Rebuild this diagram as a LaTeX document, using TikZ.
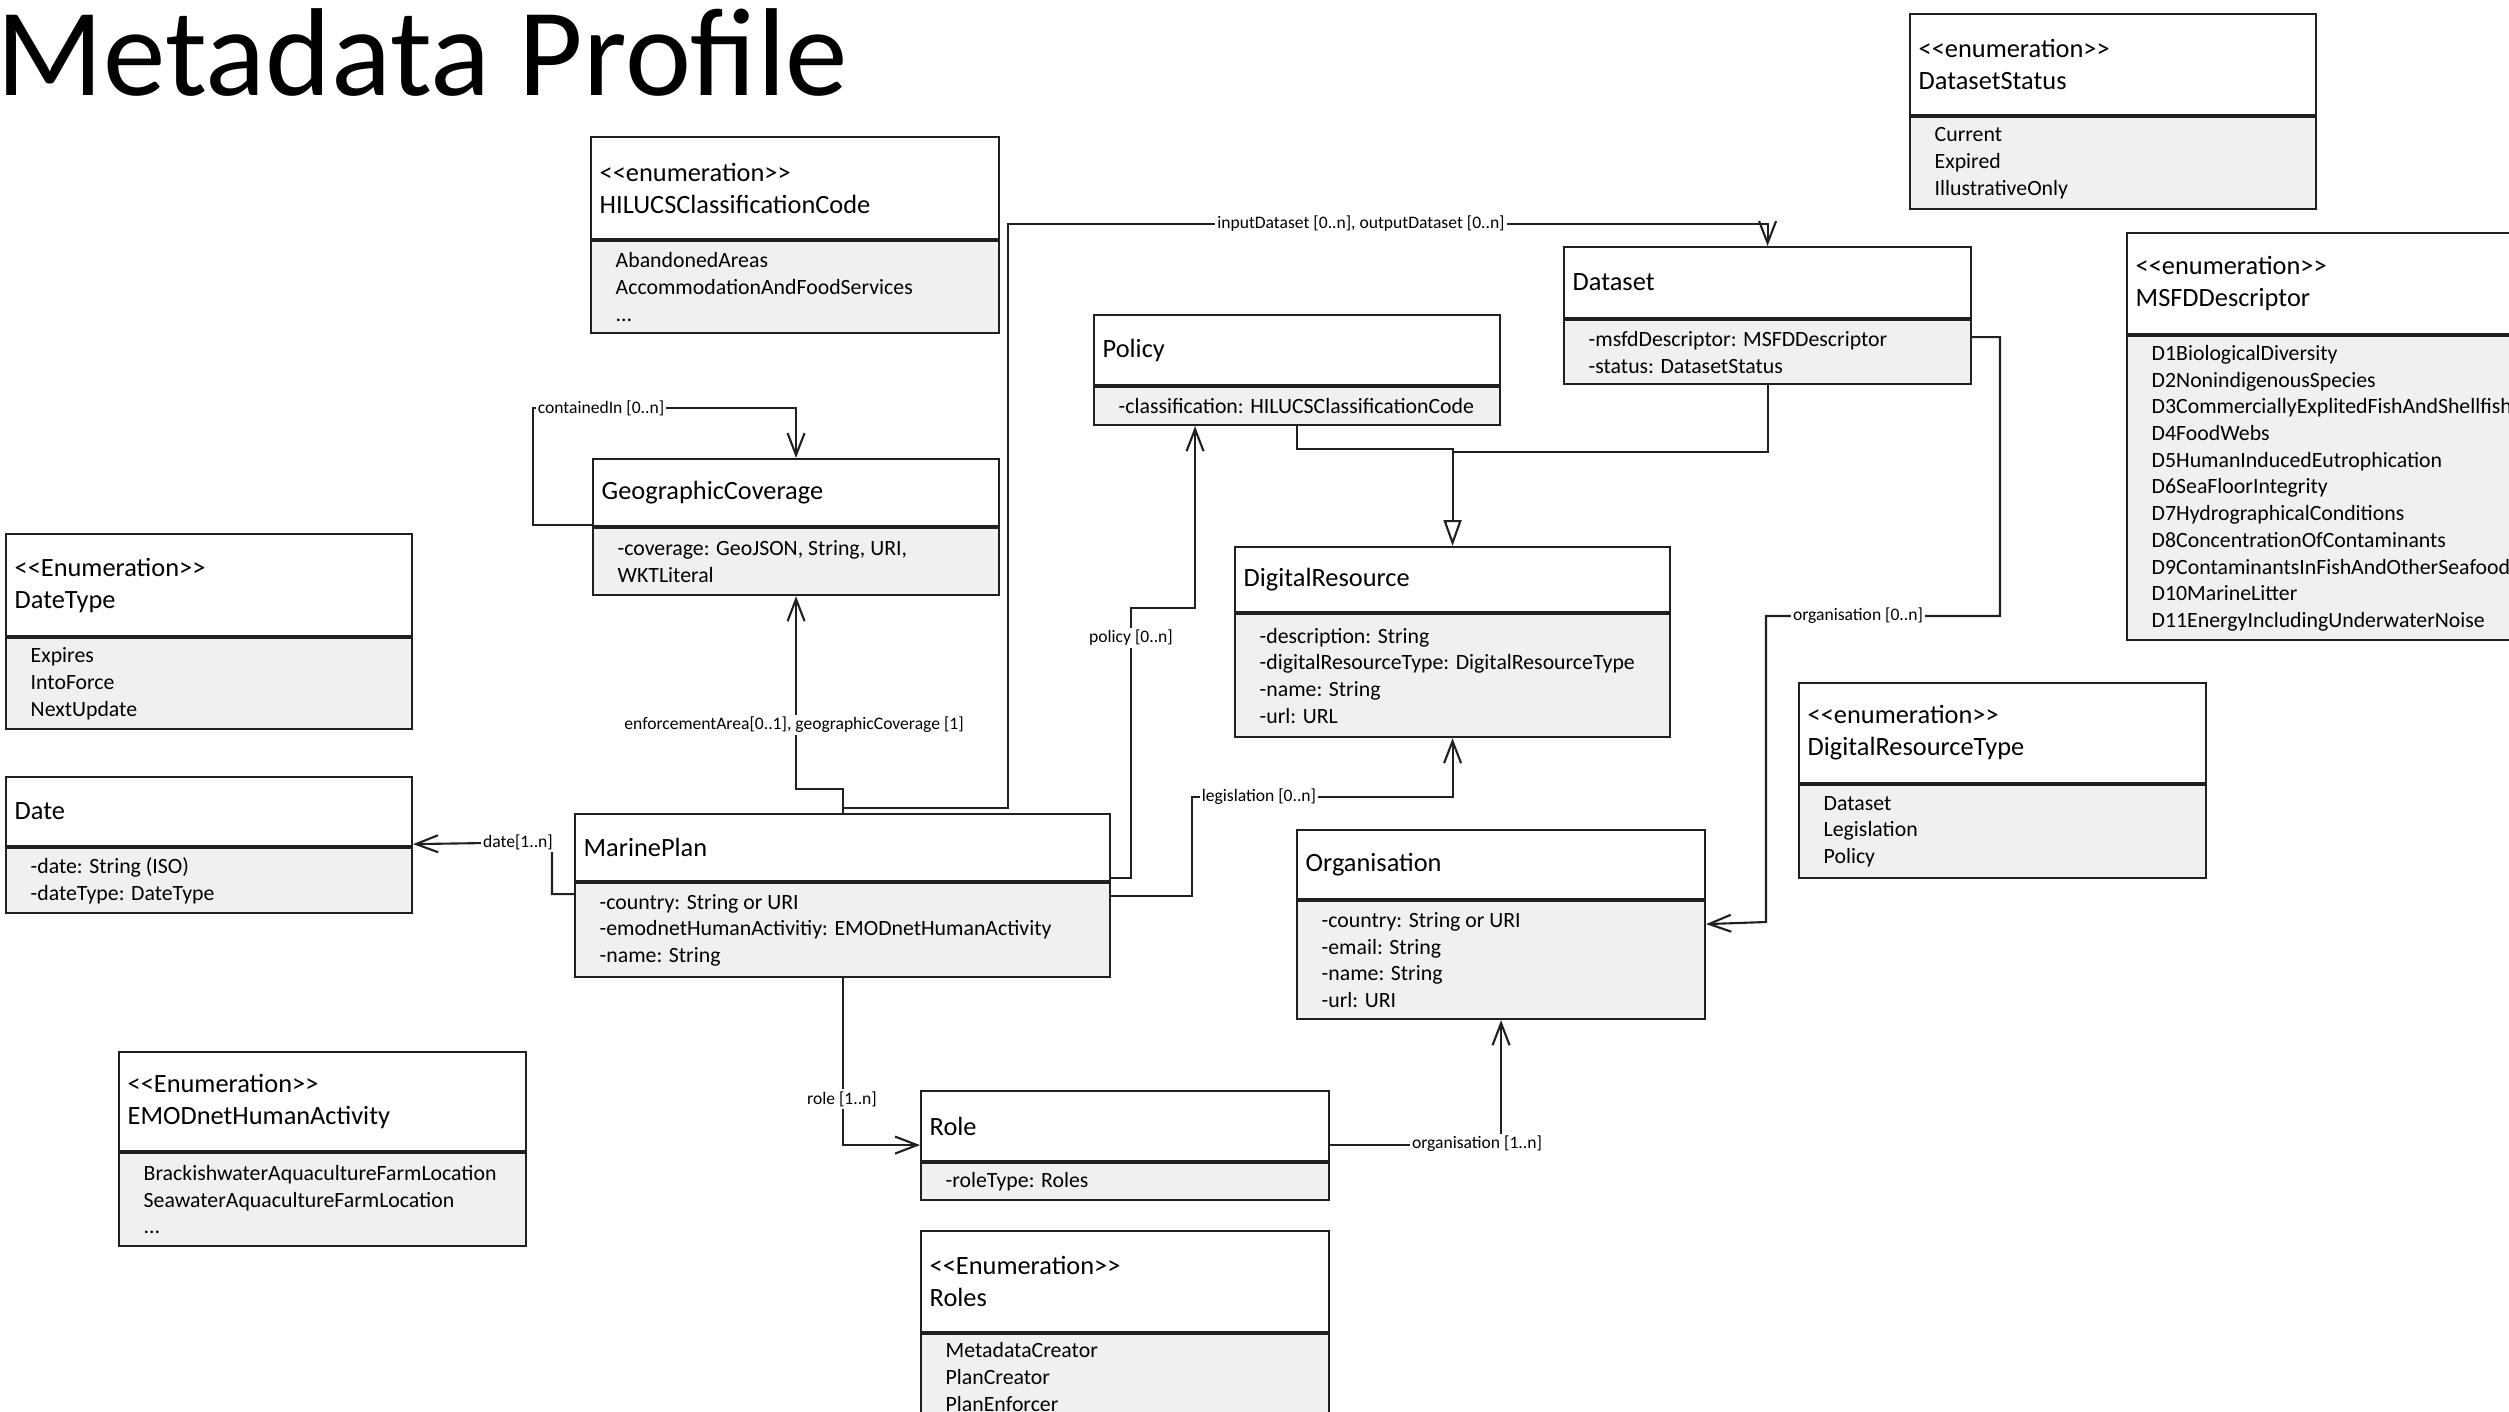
\documentclass[tikz,border=0pt]{standalone}
\usepackage{fontspec}
\setmainfont{Carlito}
\usetikzlibrary{arrows.meta,calc}
\definecolor{bodygray}{HTML}{F0F0F0}
\definecolor{linegray}{HTML}{202020}
\tikzset{
  boxhead/.style={draw=linegray, line width=0.6pt, fill=white, inner sep=0pt, anchor=north west},
  boxbody/.style={draw=linegray, line width=0.6pt, fill=bodygray, inner sep=0pt, anchor=north},
  headtext/.style={anchor=west, align=left, inner sep=0pt, font=\fontsize{7.5}{9.1}\selectfont},
  bodytext/.style={anchor=west, align=left, inner sep=0pt, font=\fontsize{6.2}{7.6}\selectfont},
  assoc/.style={draw=linegray, line width=0.6pt, -{Straight Barb[length=0.22cm,width=0.17cm,line width=0.6pt]}},
  plainline/.style={draw=linegray, line width=0.6pt},
  gen/.style={draw=linegray, line width=0.6pt, -{Triangle[open,length=0.26cm,width=0.18cm,line width=0.6pt,fill=white]}},
  lbl/.style={fill=white, inner sep=0.6pt, font=\fontsize{5}{6}\selectfont},
}
% #1 name, #2 x, #3 y, #4 width, #5 header h, #6 body h, #7 header text, #8 body text
\newcommand\umlcls[8]{%
  \node[boxhead, minimum width=#4cm, minimum height=#5cm] (#1h) at (#2,#3) {};
  \node[boxbody, minimum width=#4cm, minimum height=#6cm] (#1b) at (#1h.south) {};
  \node[headtext] (#1ht) at ([xshift=0.09cm]#1h.west) {#7};
  \node[bodytext] (#1bt) at ([xshift=0.25cm]#1b.west) {#8};
}
\begin{document}
\begin{tikzpicture}
\useasboundingbox (0,0) rectangle (25.09,-14.11);
\clip (0,0) rectangle (25.09,-14.11);
\fill[white] (0,0) rectangle (25.09,-14.11);

\node[anchor=base west, inner sep=0pt, font=\fontsize{35.6}{40}\selectfont] (title) at (-0.04,-0.95) {Metadata Profile};

\umlcls{hil}{5.90}{-1.36}{4.08}{1.02}{0.92}{<{}<enumeration>{}>\\HILUCSClassificationCode}{AbandonedAreas\\AccommodationAndFoodServices\\...}
\umlcls{dss}{19.09}{-0.13}{4.06}{1.01}{0.92}{<{}<enumeration>{}>\\DatasetStatus}{Current\\Expired\\IllustrativeOnly}
\umlcls{msfd}{21.26}{-2.32}{4.30}{1.01}{3.04}{<{}<enumeration>{}>\\MSFDDescriptor}{D1BiologicalDiversity\\D2NonindigenousSpecies\\D3CommerciallyExplitedFishAndShellfish\\D4FoodWebs\\D5HumanInducedEutrophication\\D6SeaFloorIntegrity\\D7HydrographicalConditions\\D8ConcentrationOfContaminants\\D9ContaminantsInFishAndOtherSeafood\\D10MarineLitter\\D11EnergyIncludingUnderwaterNoise}
\umlcls{ds}{15.63}{-2.46}{4.07}{0.71}{0.64}{Dataset}{-msfdDescriptor: MSFDDescriptor\\-status: DatasetStatus}
\umlcls{pol}{10.93}{-3.14}{4.06}{0.70}{0.38}{Policy}{-classification: HILUCSClassificationCode}
\umlcls{geo}{5.92}{-4.58}{4.06}{0.67}{0.67}{GeographicCoverage}{-coverage: GeoJSON, String, URI,\\WKTLiteral}
\umlcls{dr}{12.34}{-5.46}{4.35}{0.65}{1.23}{DigitalResource}{-description: String\\-digitalResourceType: DigitalResourceType\\-name: String\\-url: URL}
\umlcls{dt}{0.05}{-5.33}{4.06}{1.02}{0.91}{<{}<Enumeration>{}>\\DateType}{Expires\\IntoForce\\NextUpdate}
\umlcls{date}{0.05}{-7.76}{4.06}{0.69}{0.65}{Date}{-date: String (ISO)\\-dateType: DateType}
\umlcls{mp}{5.74}{-8.13}{5.35}{0.67}{0.94}{MarinePlan}{-country: String or URI\\-emodnetHumanActivitiy: EMODnetHumanActivity\\-name: String}
\umlcls{drt}{17.98}{-6.82}{4.07}{1.00}{0.93}{<{}<enumeration>{}>\\DigitalResourceType}{Dataset\\Legislation\\Policy}
\umlcls{org}{12.96}{-8.29}{4.08}{0.69}{1.18}{Organisation}{-country: String or URI\\-email: String\\-name: String\\-url: URI}
\umlcls{emo}{1.18}{-10.51}{4.07}{0.99}{0.93}{<{}<Enumeration>{}>\\EMODnetHumanActivity}{BrackishwaterAquacultureFarmLocation\\SeawaterAquacultureFarmLocation\\...}
\umlcls{role}{9.20}{-10.90}{4.08}{0.70}{0.37}{Role}{-roleType: Roles}
\node[boxhead, minimum width=4.08cm, minimum height=1.01cm] (rolesh) at (9.20,-12.30) {};
\node[boxbody, minimum width=4.08cm, minimum height=1.0cm] (rolesb) at (rolesh.south) {};
\node[headtext] (rolesht) at ([xshift=0.09cm]rolesh.west) {<{}<Enumeration>{}>\\Roles};
\node[bodytext, anchor=north west] (rolesbt) at ([xshift=0.25cm,yshift=-0.09cm]rolesb.north west) {MetadataCreator\\PlanCreator\\PlanEnforcer};

% waypoints
\coordinate (w1) at (5.33,-4.08);
\coordinate (w2) at (10.08,-2.24);
\coordinate (w3) at (11.31,-6.08);
\coordinate (w4) at (11.92,-7.97);
\coordinate (w5) at (5.52,-8.42);
\coordinate (w6) at (20.00,-6.16);
\coordinate (w7) at (17.66,-9.22);

% containedIn
\draw[assoc] ([yshift=0.02cm]geoh.south west) -| (w1) -| (geoh.north);
\node[lbl] (l1) at (6.01,-4.08) {containedIn [0..n]};
% enforcementArea
\draw[assoc] (mph.north) -- ++(0,0.24) -| (geob.south);
\node[lbl] (l2) at (7.94,-7.25) {enforcementArea[0..1], geographicCoverage [1]};
% input/output dataset
\draw[assoc] ([yshift=0.05cm]mph.north) -| (w2) -| (dsh.north);
\node[lbl] (l3) at (13.61,-2.24) {inputDataset [0..n], outputDataset [0..n]};
% policy
\draw[assoc] ([yshift=0.04cm]mph.south east) -| (w3) -| ([xshift=-1.02cm]polb.south);
\node[lbl] (l4) at (11.31,-6.38) {policy [0..n]};
% legislation
\draw[assoc] ([yshift=-0.14cm]mpb.north east) -| (w4) -| (drb.south);
\node[lbl] (l5) at (12.59,-7.97) {legislation [0..n]};
% date
\draw[assoc] ([yshift=-0.12cm]mpb.north west) -| (w5) -- ([yshift=0.03cm]dateh.south east);
\node[lbl] (l6) at (5.18,-8.42) {date[1..n]};
% role
\draw[assoc] (mpb.south) |- ([yshift=-0.19cm]roleh.west);
\node[lbl] (l7) at (8.42,-10.99) {role [1..n]};
% organisation 1..n
\draw[assoc] ([yshift=-0.19cm]roleh.east) -| (orgb.south);
\node[lbl] (l8) at (14.77,-11.44) {organisation [1..n]};
% generalisation
\draw[plainline] (dsb.south) |- ($(drh.north)+(0,0.94)$);
\draw[gen] (polb.south) -- ++(0,-0.23) -| (drh.north);
% organisation 0..n
\draw[assoc] ([yshift=-0.18cm]dsb.north east) -| (w6) -| (w7) -- ([yshift=-0.24cm]orgb.north east);
\node[lbl] (l9) at (18.58,-6.16) {organisation [0..n]};
\end{tikzpicture}
\end{document}
